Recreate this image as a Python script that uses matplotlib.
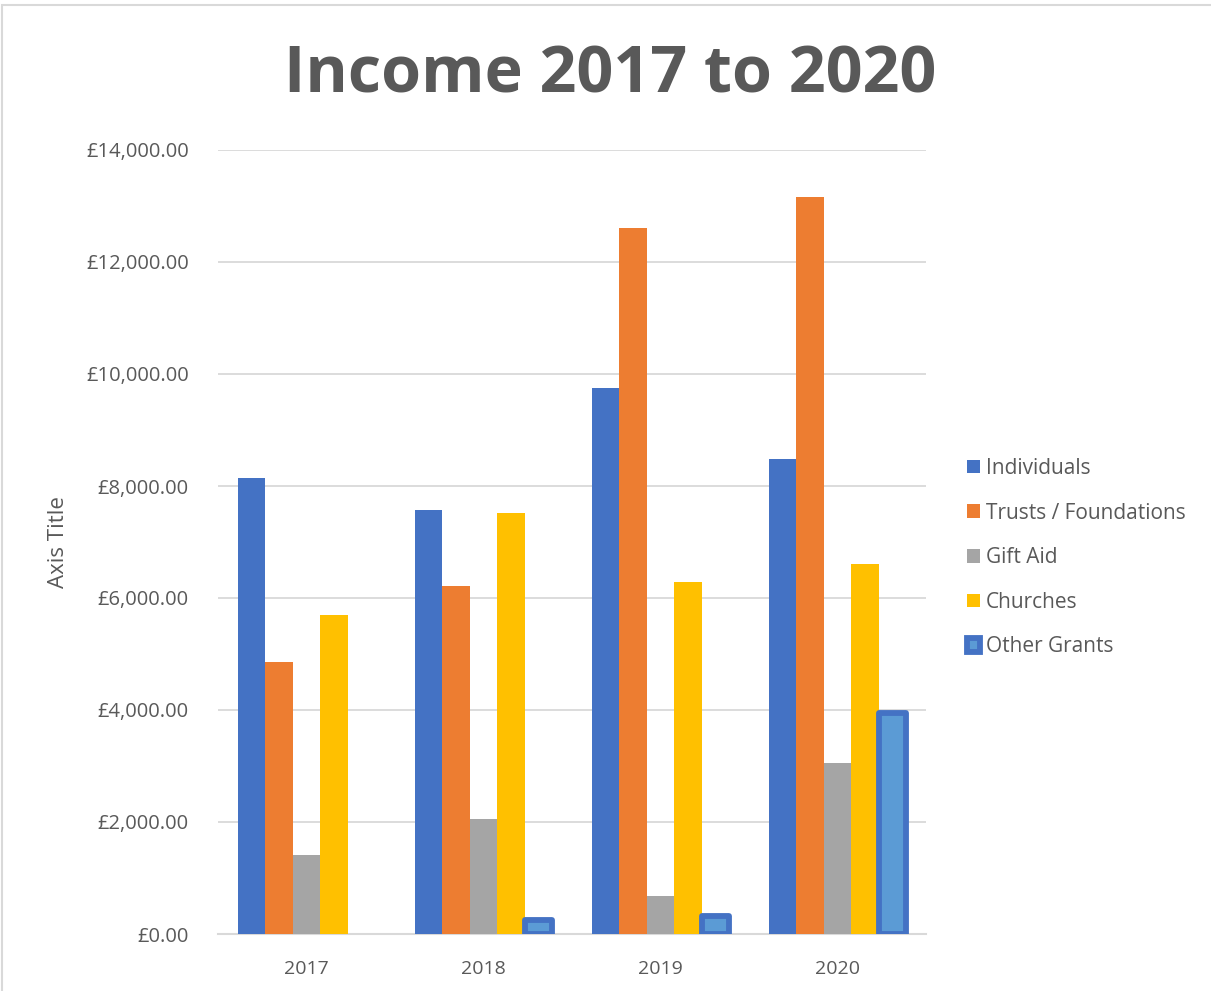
import matplotlib
matplotlib.use("Agg")
import matplotlib.pyplot as plt
import numpy as np
from matplotlib.patches import Rectangle

years = ["2017", "2018", "2019", "2020"]
series = ["Individuals", "Trusts / Foundations", "Gift Aid", "Churches", "Other Grants"]
individuals = [8140, 7570, 9750, 8480]
trusts = [4860, 6210, 12610, 13155]
gift_aid = [1410, 2055, 680, 3055]
churches = [5695, 7520, 6285, 6605]
other_grants = [0, 250, 320, 3940]
yticks = [0, 2000, 4000, 6000, 8000, 10000, 12000, 14000]
title = "Income 2017 to 2020"
axis_title = "Axis Title"

colors = ["#4472C4", "#ED7D31", "#A5A5A5", "#FFC000", "#5B9BD5"]
txt = "#595959"
grid = "#D9D9D9"
font = "Open Sans"

plt.rcParams['font.family'] = [font, 'DejaVu Sans']

fig = plt.figure(figsize=(12.11, 9.91), dpi=100)
fig.patches.append(Rectangle((2/1211, -0.01), 1.02, 1 - 5/991 + 0.01,
                             transform=fig.transFigure, fill=False,
                             edgecolor="#D9D9D9", linewidth=1.5))

ax = fig.add_axes([218/1211, 1 - 934/991, (926 - 218)/1211, (934 - 150)/991])
x = np.arange(len(years))
w = 0.155
data = [individuals, trusts, gift_aid, churches, other_grants]
handles = []
for i, (name, vals) in enumerate(zip(series, data)):
    off = (i - 2) * w
    if i < 4:
        b = ax.bar(x + off, vals, w, color=colors[i], label=name, zorder=3, linewidth=0)
    else:
        vv = np.array(vals, dtype=float)
        mask = vv > 0
        b = ax.bar((x + off)[mask], vv[mask], w, color=colors[4], edgecolor="#4472C4",
                   linewidth=4.2, label=name, zorder=3, joinstyle="round")
    handles.append(b)

ax.set_xlim(-0.5, 3.5)
ax.set_ylim(0, 14000)
ax.set_yticks(yticks)
ax.set_yticklabels([f"£{v:,.2f}" for v in yticks], color=txt, fontsize=14.5)
ax.set_xticks(x)
ax.set_xticklabels(years, color=txt, fontsize=14)
ax.tick_params(axis="both", length=0)
ax.tick_params(axis="y", pad=21)
ax.tick_params(axis="x", pad=19)
ax.yaxis.grid(True, color=grid, linewidth=1.3, zorder=0)
ax.set_axisbelow(True)
for s in ["top", "right", "left"]:
    ax.spines[s].set_visible(False)
ax.spines["bottom"].set_color(grid)
ax.spines["bottom"].set_linewidth(1.5)
ax.spines["bottom"].set_zorder(2)

fig.text(58/1211, 1 - 542/991, axis_title, rotation=90, ha="center", va="center",
         color=txt, fontsize=16)
fig.text(610/1211, 1 - 76/991, title, ha="center", va="center", color=txt,
         fontsize=46.5, fontweight="bold")

leg = fig.legend(handles, series, loc="upper left", bbox_to_anchor=(967/1211, 1 - 458/991),
                 frameon=False, fontsize=15, handlelength=0.62, handleheight=0.62,
                 handletextpad=0.3, labelspacing=1.13, borderaxespad=0, borderpad=0)
for t in leg.get_texts():
    t.set_color(txt)

fig.savefig("out.png", dpi=100)
